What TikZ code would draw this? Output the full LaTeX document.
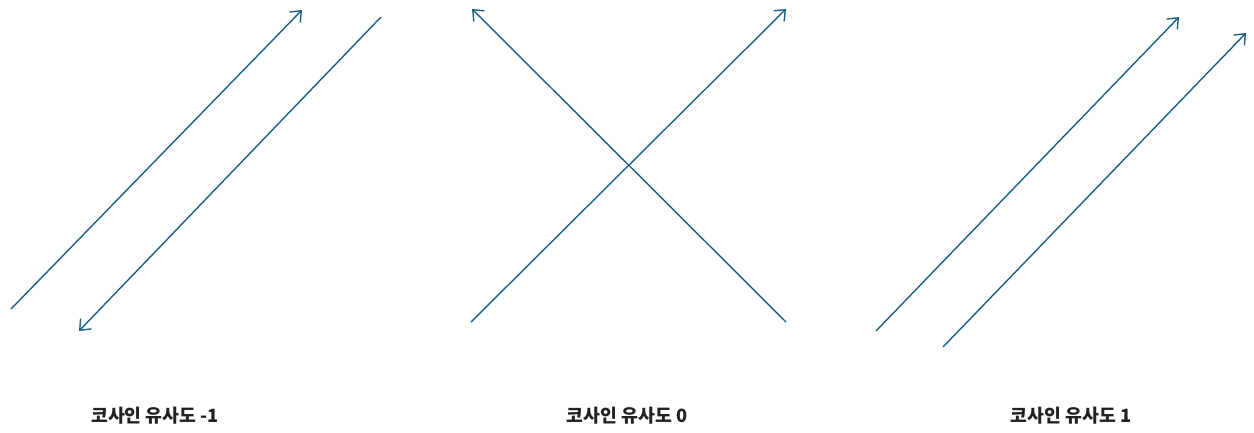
\documentclass[tikz,border=0pt]{standalone}
\usepackage{fontspec}
\newfontfamily\kofont{Noto Sans CJK KR}
\usepackage{tikz}
\usetikzlibrary{arrows.meta, positioning}
\definecolor{colVec}{HTML}{1B5E87}
\definecolor{colText}{HTML}{222222}
\tikzset{
  vec/.style={
    -{Straight Barb[length=9pt,width=15pt,line width=1.4pt]},
    line width=1.4pt, draw=colVec
  },
  lbl/.style={
    font=\kofont\bfseries\fontsize{18.3}{22}\selectfont,
    text=colText, inner sep=0pt, anchor=center
  }
}
\begin{document}
\begin{tikzpicture}[x=1pt, y=-1pt]
  \useasboundingbox (0,0) rectangle (1254,432);
  % cosine similarity -1
  \coordinate (a1s) at (11,309);  \coordinate (a1e) at (302,10);
  \coordinate (b1s) at (381,17);  \coordinate (b1e) at (79,331);
  % cosine similarity 0
  \coordinate (a0s) at (471,322); \coordinate (a0e) at (786,9);
  \coordinate (b0s) at (786,322); \coordinate (b0e) at (472,9);
  % cosine similarity 1
  \coordinate (apS) at (876,331); \coordinate (apE) at (1179,17);
  \coordinate (bpS) at (943,347); \coordinate (bpE) at (1246,33);
  \draw[vec] (a1s) -- (a1e); \draw[vec] (b1s) -- (b1e);
  \draw[vec] (a0s) -- (a0e); \draw[vec] (b0s) -- (b0e);
  \draw[vec] (apS) -- (apE); \draw[vec] (bpS) -- (bpE);
  \node[lbl] (lblneg)  at (155,416)  {코사인 유사도 -1};
  \node[lbl] (lblzero) at (627,416)  {코사인 유사도 0};
  \node[lbl] (lblpos)  at (1071,416) {코사인 유사도 1};
\end{tikzpicture}
\end{document}
